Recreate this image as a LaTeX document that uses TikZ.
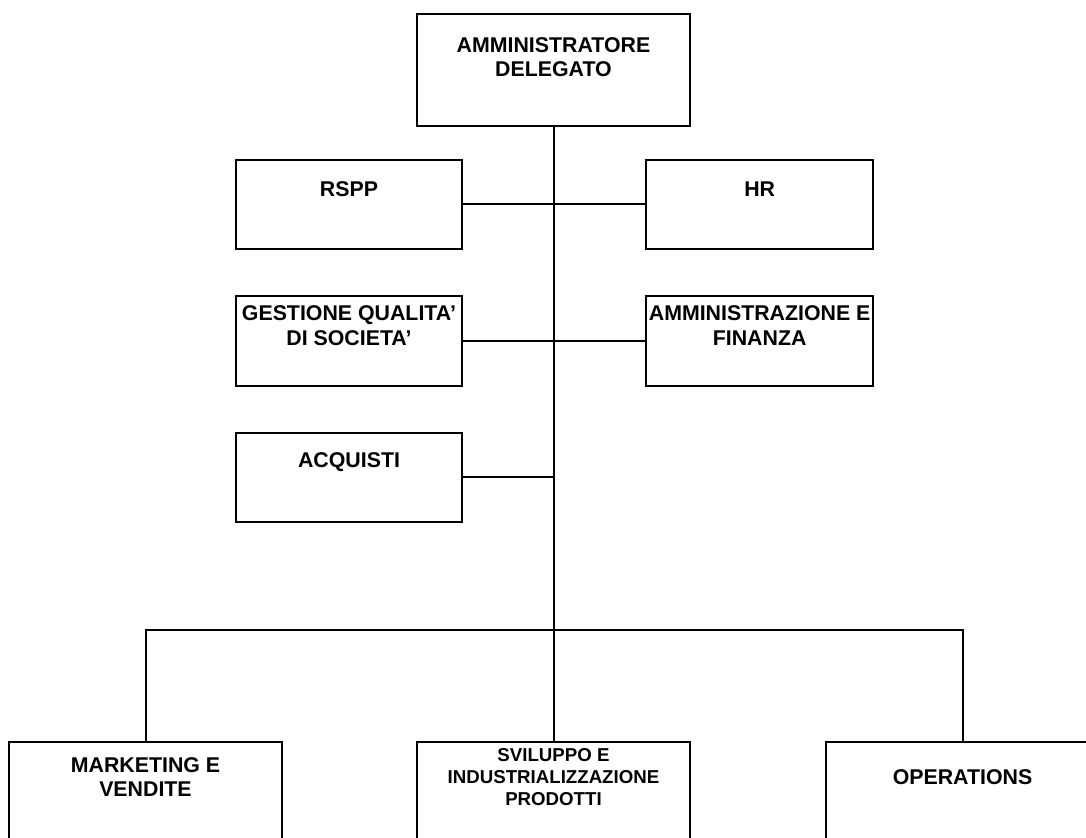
\documentclass[tikz,border=0pt]{standalone}
\usepackage{fontspec}
\setmainfont{Liberation Sans}
\usetikzlibrary{positioning}

\begin{document}
\begin{tikzpicture}[x=0.75pt,y=-0.75pt]
\tikzset{
  caption/.style={anchor=center, align=center, inner sep=0pt, font=\bfseries\fontsize{16}{18.5}\selectfont},
  post/.style={rectangle, draw=black, line width=1.5pt, minimum width=205pt, minimum height=84pt},
  head/.style={post, label={[caption, yshift=-33pt]north:#1}},
  staff/.style={post, minimum width=170pt, minimum height=67pt, label={[caption, yshift=-23pt]north:#1}},
  division/.style={post, label={[caption, yshift=-27pt]north:#1}},
  smalldivision/.style={post, label={[caption, yshift=-27pt, font=\bfseries\fontsize{14}{16.5}\selectfont]north:#1}},
  link/.style={draw=black, line width=1.5pt},
}
\useasboundingbox (0,0) rectangle (1086,838);
\clip (0,0) rectangle (1086,838);
\node[head={AMMINISTRATORE\\DELEGATO}] (ad) at (553.5,70) {};
\node[staff=RSPP] (rspp) at (349,204.5) {};
\node[staff=HR, right=136.5pt of rspp] (hr) {};
\node[staff={GESTIONE QUALITA'\\DI SOCIETA'}, below=33.75pt of rspp] (qual) {};
\node[staff={AMMINISTRAZIONE E\\FINANZA}, below=33.75pt of hr] (afc) {};
\node[staff=ACQUISTI, below=33.75pt of qual] (acq) {};
\node[division={MARKETING E\\VENDITE}] (mkt) at (145.5,798) {};
\node[smalldivision={SVILUPPO E\\INDUSTRIALIZZAZIONE\\PRODOTTI}] (svi) at (553.5,798) {};
\node[division=OPERATIONS] (ops) at (962.5,798) {};
\coordinate (bus) at (553.5,630);
%
\path[link] (ad) -- (bus);
\path[link] (rspp) -- (hr);
\path[link] (qual) -- (afc);
\path[link] (acq) -- (acq -| bus);
\path[link] (mkt) |- (bus) -| (ops);
\path[link] (bus) -- (svi);
\end{tikzpicture}
\end{document}
